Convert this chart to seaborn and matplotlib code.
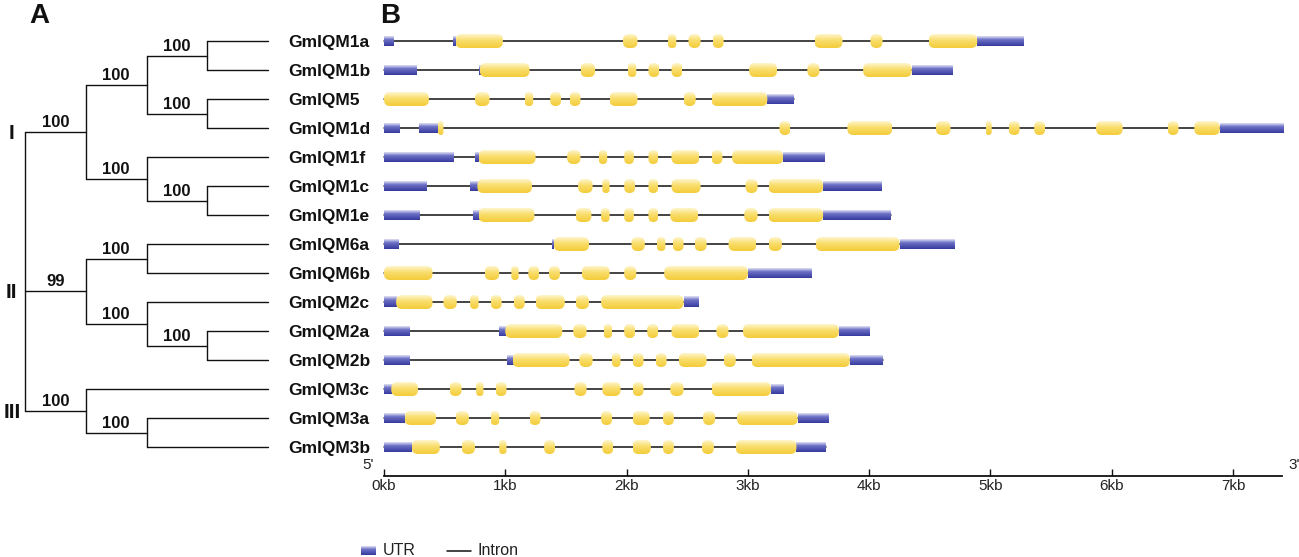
import numpy as np
import pandas as pd
import matplotlib
matplotlib.use("Agg")
import matplotlib.pyplot as plt
import seaborn as sns
from matplotlib.patches import FancyBboxPatch
from matplotlib.colors import LinearSegmentedColormap

# ---------------- data ----------------
genes = ["GmIQM1a", "GmIQM1b", "GmIQM5", "GmIQM1d", "GmIQM1f", "GmIQM1c", "GmIQM1e",
         "GmIQM6a", "GmIQM6b", "GmIQM2c", "GmIQM2a", "GmIQM2b", "GmIQM3c", "GmIQM3a", "GmIQM3b"]

# exon intervals in kb (start, end)
cds_1a = [(0.59, 0.98), (1.97, 2.09), (2.34, 2.41), (2.51, 2.61), (2.71, 2.80), (3.55, 3.78), (4.01, 4.11), (4.49, 4.89)]
utr_1a = [(0.00, 0.08), (0.57, 0.59), (4.89, 5.27)]
cds_1b = [(0.79, 1.20), (1.62, 1.74), (2.01, 2.08), (2.18, 2.27), (2.37, 2.46), (3.01, 3.24), (3.49, 3.59), (3.95, 4.35)]
utr_1b = [(0.00, 0.27), (0.78, 0.79), (4.35, 4.68)]
cds_5 = [(0.00, 0.37), (0.75, 0.87), (1.16, 1.23), (1.37, 1.46), (1.53, 1.62), (1.86, 2.09), (2.47, 2.57), (2.70, 3.16)]
utr_5 = [(3.16, 3.38)]
cds_1d = [(0.445, 0.49), (3.26, 3.35), (3.82, 4.19), (4.55, 4.67), (4.96, 5.01), (5.15, 5.24), (5.36, 5.45), (5.87, 6.09), (6.46, 6.55), (6.68, 6.89)]
utr_1d = [(0.00, 0.13), (0.29, 0.445), (6.89, 7.41)]
cds_1f = [(0.78, 1.25), (1.51, 1.62), (1.77, 1.84), (1.98, 2.06), (2.18, 2.26), (2.37, 2.60), (2.70, 2.79), (2.87, 3.29)]
utr_1f = [(0.00, 0.57), (0.75, 0.78), (3.29, 3.63)]
cds_1c = [(0.77, 1.22), (1.60, 1.72), (1.80, 1.86), (1.98, 2.07), (2.18, 2.26), (2.37, 2.61), (2.98, 3.08), (3.17, 3.62)]
utr_1c = [(0.00, 0.35), (0.71, 0.77), (3.62, 4.10)]
cds_1e = [(0.78, 1.24), (1.58, 1.71), (1.79, 1.86), (1.98, 2.06), (2.18, 2.26), (2.36, 2.59), (2.97, 3.08), (3.17, 3.62)]
utr_1e = [(0.00, 0.29), (0.73, 0.78), (3.62, 4.18)]
cds_6a = [(1.40, 1.69), (2.04, 2.15), (2.25, 2.32), (2.38, 2.47), (2.56, 2.66), (2.84, 3.07), (3.17, 3.28), (3.56, 4.25)]
utr_6a = [(0.00, 0.12), (1.385, 1.40), (4.25, 4.70)]
cds_6b = [(0.00, 0.40), (0.83, 0.95), (1.05, 1.11), (1.19, 1.28), (1.36, 1.45), (1.63, 1.86), (1.98, 2.08), (2.31, 3.00)]
utr_6b = [(3.00, 3.52)]
cds_2c = [(0.10, 0.40), (0.49, 0.60), (0.71, 0.78), (0.88, 0.97), (1.07, 1.16), (1.25, 1.49), (1.58, 1.69), (1.79, 2.47)]
utr_2c = [(0.00, 0.10), (2.47, 2.59)]
cds_2a = [(1.00, 1.47), (1.56, 1.67), (1.81, 1.88), (1.98, 2.07), (2.17, 2.26), (2.37, 2.60), (2.74, 2.84), (2.96, 3.75)]
utr_2a = [(0.00, 0.21), (0.95, 1.00), (3.75, 4.00)]
cds_2b = [(1.06, 1.53), (1.61, 1.72), (1.88, 1.95), (2.05, 2.14), (2.24, 2.33), (2.43, 2.66), (2.80, 2.90), (3.03, 3.84)]
utr_2b = [(0.00, 0.21), (1.01, 1.06), (3.84, 4.11)]
cds_3c = [(0.06, 0.28), (0.54, 0.64), (0.76, 0.82), (0.92, 1.01), (1.57, 1.67), (1.80, 1.95), (2.05, 2.14), (2.36, 2.47), (2.70, 3.19)]
utr_3c = [(0.00, 0.06), (3.19, 3.29)]
cds_3a = [(0.17, 0.43), (0.59, 0.70), (0.88, 0.95), (1.20, 1.29), (1.79, 1.88), (2.05, 2.19), (2.30, 2.39), (2.63, 2.73), (2.91, 3.41)]
utr_3a = [(0.00, 0.17), (3.41, 3.66)]
cds_3b = [(0.23, 0.46), (0.64, 0.75), (0.95, 1.01), (1.32, 1.41), (1.80, 1.89), (2.05, 2.20), (2.30, 2.39), (2.62, 2.72), (2.90, 3.40)]
utr_3b = [(0.00, 0.23), (3.40, 3.64)]

cds_list = [cds_1a, cds_1b, cds_5, cds_1d, cds_1f, cds_1c, cds_1e, cds_6a, cds_6b, cds_2c, cds_2a, cds_2b, cds_3c, cds_3a, cds_3b]
utr_list = [utr_1a, utr_1b, utr_5, utr_1d, utr_1f, utr_1c, utr_1e, utr_6a, utr_6b, utr_2c, utr_2a, utr_2b, utr_3c, utr_3a, utr_3b]

# tree: (support, clade name, children)
tree = (None, "", [
    (100, "I", [
        (100, "", [(100, "", ["GmIQM1a", "GmIQM1b"]), (100, "", ["GmIQM5", "GmIQM1d"])]),
        (100, "", ["GmIQM1f", (100, "", ["GmIQM1c", "GmIQM1e"])]),
    ]),
    (99, "II", [
        (100, "", ["GmIQM6a", "GmIQM6b"]),
        (100, "", ["GmIQM2c", (100, "", ["GmIQM2a", "GmIQM2b"])]),
    ]),
    (100, "III", ["GmIQM3c", (100, "", ["GmIQM3a", "GmIQM3b"])]),
])

tick_kb = [0, 1, 2, 3, 4, 5, 6, 7]
tick_labels = ["0kb", "1kb", "2kb", "3kb", "4kb", "5kb", "6kb", "7kb"]
scale_max = 7.4

# ---------------- style ----------------
sns.set_theme(style="white")
plt.rcParams["font.family"] = ["Liberation Sans", "DejaVu Sans"]

W, H = 1299, 557
fig = plt.figure(figsize=(W / 100, H / 100), dpi=100)

px_kb = 121.3
px_row = 29.0
row0_px = 41.0
ymin_row, ymax_row = -0.6, 15.0
top_px = row0_px + ymin_row * px_row
bot_px = row0_px + ymax_row * px_row
ax_bottom = 1 - bot_px / H
ax_height = (bot_px - top_px) / H

# ---------------- tree (panel A) ----------------
LEAF_X = 4
leaf_x0_px, px_depth = 25.0, 60.75
tx0, tx1 = -0.1, 4.1
axA = fig.add_axes([(leaf_x0_px + tx0 * px_depth) / W, ax_bottom, (tx1 - tx0) * px_depth / W, ax_height])

segs, supports, romans = [], [], []


def add_seg(p0, p1):
    sid = len(segs) // 2
    segs.append((sid, p0[0], p0[1]))
    segs.append((sid, p1[0], p1[1]))


def layout(node, depth):
    if isinstance(node, str):
        return genes.index(node)
    support, clade, children = node
    ys = []
    for ch in children:
        cy = layout(ch, depth + 1)
        if isinstance(ch, str):
            add_seg((depth, cy), (LEAF_X, cy))
        else:
            add_seg((depth, cy), (depth + 1, cy))
            if ch[0] is not None:
                supports.append((depth + 0.5, cy, str(ch[0])))
            if ch[1]:
                romans.append((cy, ch[1]))
        ys.append(cy)
    add_seg((depth, min(ys)), (depth, max(ys)))
    return (min(ys) + max(ys)) / 2


layout(tree, 0)
segdf = pd.DataFrame(segs, columns=["seg", "x", "y"])
sns.lineplot(data=segdf, x="x", y="y", units="seg", estimator=None, sort=False,
             color="#111111", linewidth=1.0, legend=False, ax=axA)
for x, y, s in supports:
    axA.annotate(s, xy=(x, y), xytext=(0, 3.5), textcoords="offset points",
                 ha="center", va="baseline", fontsize=12, fontweight="bold", color="#111111")
for y, r in romans:
    axA.annotate(r, xy=(0, y), xytext=(-9.5, -1), textcoords="offset points",
                 ha="center", va="center", fontsize=15, fontweight="bold", color="#111111")
for i, g in enumerate(genes):
    axA.annotate(g, xy=(LEAF_X, i), xytext=(14.4, -1.2), textcoords="offset points",
                 ha="left", va="center", fontsize=12.5, fontweight="bold", color="#111111")
axA.set_xlim(tx0, tx1)
axA.set_ylim(ymax_row, ymin_row)
axA.axis("off")

# ---------------- gene structure (panel B) ----------------
bx0, bx1 = -0.02, 7.43
axB = fig.add_axes([(384 + bx0 * px_kb) / W, ax_bottom, (bx1 - bx0) * px_kb / W, ax_height])

cds_cmap = LinearSegmentedColormap.from_list("cds", [(0, "#FEF6CC"), (0.45, "#F9DE6C"), (1, "#F4CC3A")])
utr_cmap = LinearSegmentedColormap.from_list("utr", [(0, "#E2E2F5"), (0.35, "#6E72C6"), (1, "#363A9E")])
grad = np.linspace(0, 1, 64).reshape(-1, 1)

# intron lines
rows = []
for i, (c, u) in enumerate(zip(cds_list, utr_list)):
    allx = [a for iv in c + u for a in iv]
    rows.append((genes[i], min(allx), i))
    rows.append((genes[i], max(allx), i))
introns = pd.DataFrame(rows, columns=["gene", "kb", "row"])
sns.lineplot(data=introns, x="kb", y="row", units="gene", estimator=None, sort=False,
             color="#111111", linewidth=1.1, legend=False, ax=axB)

cds_h = 14 / px_row
utr_h = 10 / px_row
aspect = px_kb / px_row
r_kb = 6 / px_kb

for i, (c, u) in enumerate(zip(cds_list, utr_list)):
    for (s, e) in u:
        axB.imshow(grad, cmap=utr_cmap, extent=(s, e, i + utr_h / 2, i - utr_h / 2),
                   origin="upper", aspect="auto", interpolation="bilinear", zorder=3)
    for (s, e) in c:
        w = e - s
        r = min(r_kb, w / 2, (cds_h / aspect) / 2)
        patch = FancyBboxPatch((s, i - cds_h / 2), w, cds_h,
                               boxstyle=f"round,pad=0,rounding_size={r}",
                               mutation_aspect=aspect, fc="none", ec="none",
                               transform=axB.transData)
        axB.add_patch(patch)
        im = axB.imshow(grad, cmap=cds_cmap, extent=(s, e, i + cds_h / 2, i - cds_h / 2),
                        origin="upper", aspect="auto", interpolation="bilinear", zorder=4)
        im.set_clip_path(patch)

axB.set_xlim(bx0, bx1)
axB.set_ylim(ymax_row, ymin_row)
axB.set_xlabel("")
axB.set_ylabel("")
axB.set_yticks([])
axB.set_xticks(tick_kb)
axB.set_xticklabels(tick_labels, fontsize=11, color="#222222")
axB.tick_params(axis="x", direction="in", length=5, width=1.0, color="#111111", pad=2, bottom=True)
for sp in ["top", "right", "left"]:
    axB.spines[sp].set_visible(False)
axB.spines["bottom"].set_bounds(0, scale_max)
axB.spines["bottom"].set_color("#111111")
axB.spines["bottom"].set_linewidth(1.3)
axB.patch.set_alpha(0)
axB.annotate("5'", xy=(0, 0), xycoords="axes fraction", xytext=(-10, 8), textcoords="offset points",
             ha="center", va="center", fontsize=11, color="#222222")
axB.annotate("3'", xy=(scale_max, ymax_row), xycoords="data", xytext=(9, 8), textcoords="offset points",
             ha="center", va="center", fontsize=11, color="#222222")

# ---------------- overlay: panel letters and legend ----------------
lax = fig.add_axes([0, 0, 1, 1], zorder=-1)
lax.imshow(grad, cmap=utr_cmap, extent=(361, 376, 555, 546), origin="upper", aspect="auto",
           interpolation="bilinear")
lax.plot([447, 471], [550.5, 550.5], color="#111111", lw=1.1)
lax.text(383, 550.5, "UTR", ha="left", va="center", fontsize=11.5, color="#222222")
lax.text(478, 550.5, "Intron", ha="left", va="center", fontsize=11.5, color="#222222")
lax.text(39, 16, "A", ha="center", va="center", fontsize=20, fontweight="bold", color="#111111")
lax.text(390, 16, "B", ha="center", va="center", fontsize=20, fontweight="bold", color="#111111")
lax.set_xlim(0, W)
lax.set_ylim(H, 0)
lax.axis("off")

fig.savefig("out.png", dpi=100, facecolor="white")
